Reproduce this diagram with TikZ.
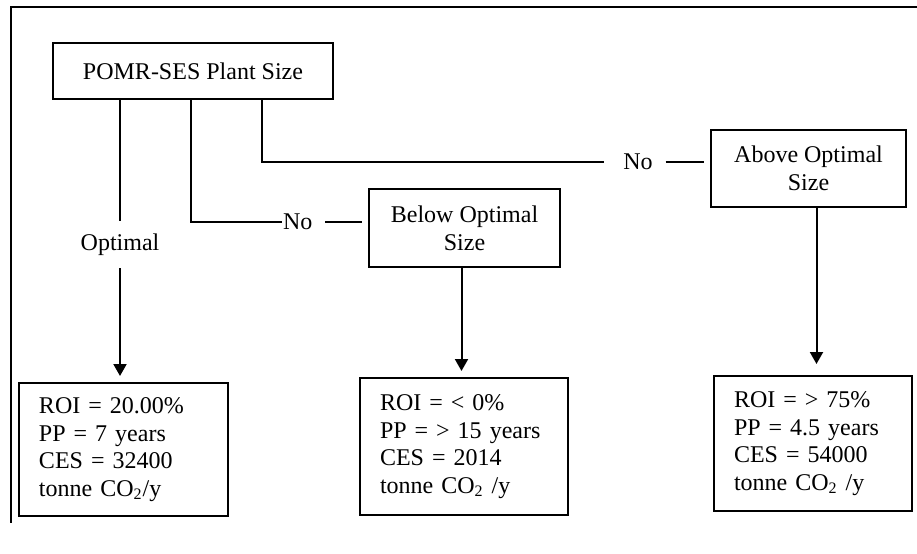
\documentclass[tikz,border=0pt]{standalone}
\usepackage{fontspec}
\setmainfont{Liberation Serif}
\usetikzlibrary{arrows.meta}

\begin{document}
\begin{tikzpicture}[x=0.5pt, y=-0.5pt, line width=1pt,
    box/.style={draw, line width=1pt, inner sep=0pt, align=center,
      font=\fontsize{12pt}{14pt}\selectfont},
    result/.style={draw, line width=1pt, inner xsep=10pt, inner ysep=0pt,
      align=left, text width=#1, font=\fontsize{12pt}{13.75pt}\selectfont},
    lbl/.style={inner sep=0pt, font=\fontsize{12pt}{14pt}\selectfont},
    arr/.style={-{Triangle[width=6.5pt,length=6pt]}, shorten >=3pt}]
    \useasboundingbox (0,0) rectangle (917,553);

    % Frame
    \draw (917,7) -- (11,7) -- (11,523);

    % Plant size
    \node[box, minimum width=140pt, minimum height=28pt] (size) at (193,71) {POMR-SES Plant Size};

    % Other sizes
    \node[box, minimum width=95.5pt, minimum height=39pt] (below) at (464.5,228) {Below Optimal\\Size};
    \node[box, minimum width=97.5pt, minimum height=38.5pt] (above) at (808.5,168.5) {Above Optimal\\Size};

    % Results
    \node[result=84.5pt, minimum height=66.5pt] (res1) at (123.5,449.5)
      {ROI = 20.00\%\\PP = 7 years\\CES = 32400\\tonne CO\textsubscript{2}/y};
    \node[result=84pt, minimum height=68.5pt] (res2) at (464,446.5)
      {ROI = < 0\%\\PP = > 15 years\\CES = 2014\\tonne CO\textsubscript{2} /y};
    \node[result=79pt, minimum height=67.5pt] (res3) at (813,443.5)
      {ROI = > 75\%\\PP = 4.5 years\\CES = 54000\\tonne CO\textsubscript{2} /y};

    % Optimal branch
    \node[lbl, minimum height=22.5pt] (opt) at (120,244.5) {Optimal};
    \draw (size.south -| opt) -- (opt.north);
    \draw[arr] (opt.south) -- (opt.south |- res1.north);

    % Below optimal branch
    \coordinate (b2) at (191,222);
    \node[lbl, anchor=west] (no1) at (282,222) {No};
    \draw (size.south -| b2) -- (b2) -- (no1.west);
    \draw[shorten >=3pt] ([xshift=6pt]no1.east) -- (no1.east -| below.west);
    \draw[arr] ([xshift=-1.5pt]below.south) -- ([xshift=-1.5pt]below.south |- res2.north);

    % Above optimal branch
    \coordinate (b3) at (262,162);
    \node[lbl] (no2) at (638,162) {No};
    \draw (size.south -| b3) -- (b3) -- ([xshift=-9pt]no2.west);
    \draw[shorten >=3pt] ([xshift=6pt]no2.east) -- (no2.east -| above.west);
    \draw[arr, shorten >=5.5pt] ([xshift=4pt]above.south) -- ([xshift=4pt]above.south |- res3.north);
\end{tikzpicture}
\end{document}
